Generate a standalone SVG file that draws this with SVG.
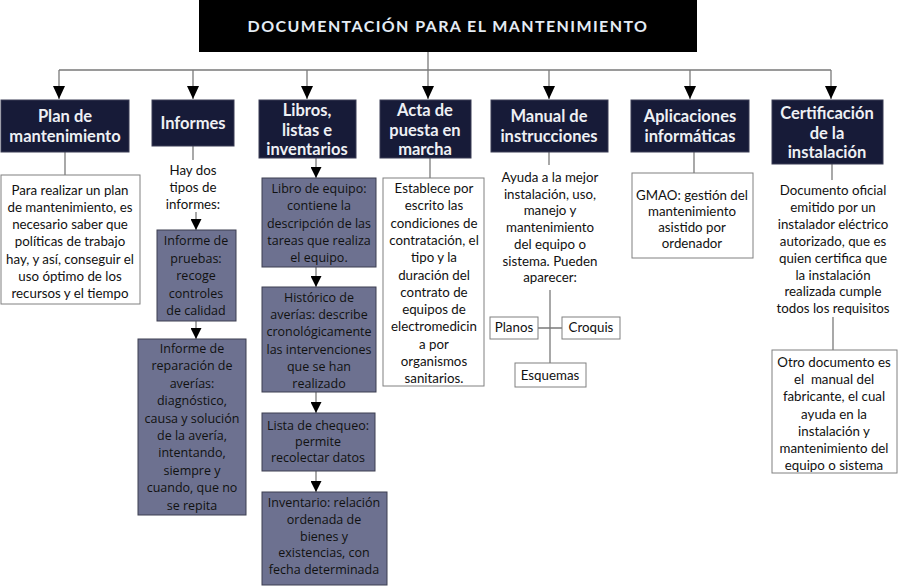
<svg xmlns="http://www.w3.org/2000/svg" width="900" height="586" viewBox="0 0 900 586">
<defs>
<marker id="arr" markerUnits="userSpaceOnUse" markerWidth="13" markerHeight="12" refX="13" refY="6" orient="auto">
<path d="M0,0 L13,6 L0,12 z" fill="#000"/>
</marker>
<marker id="arrs" markerUnits="userSpaceOnUse" markerWidth="11" markerHeight="11" refX="11" refY="5.5" orient="auto">
<path d="M0,0 L11,5.5 L0,11 z" fill="#000"/>
</marker>
<style>
.hdr{fill:#171b38;stroke:#3a3d55;stroke-width:1}
.ht{font-family:Lato,"Liberation Sans",sans-serif;font-weight:bold;font-size:16.5px;fill:#eef0f4;text-anchor:middle}
.wb{fill:#fff;stroke:#808080;stroke-width:1}
.gb{fill:#6d7190;stroke:#3c3e50;stroke-width:1}
.t{font-family:Lato,"Liberation Sans",sans-serif;font-size:13.3px;fill:#111;text-anchor:middle}
.g{font-family:"Open Sans","Liberation Sans",sans-serif;font-size:12.5px;fill:#111;text-anchor:middle}
.ln{stroke:#7a7a7a;stroke-width:1.3;fill:none}
.la{stroke:#7a7a7a;stroke-width:1.3;fill:none;marker-end:url(#arr)}
.ls{stroke:#7a7a7a;stroke-width:1.3;fill:none;marker-end:url(#arrs)}
</style>
</defs>
<rect width="900" height="586" fill="#fff"/>

<g id="connectors">
<path class="ln" d="M428,52 V70 M59,70 H831"/>
<path class="la" d="M59,70 V99"/>
<path class="la" d="M193,70 V99"/>
<path class="la" d="M307,70 V99"/>
<path class="la" d="M428,70 V99"/>
<path class="la" d="M549,70 V99"/>
<path class="la" d="M690,70 V99"/>
<path class="la" d="M831,70 V99"/>
<path class="ln" d="M65,152 V175"/>
<path class="ln" d="M193,146 V160"/>
<path class="ls" d="M196,212 V230"/>
<path class="ls" d="M196,321 V339"/>
<path class="ls" d="M316,158 V178"/>
<path class="ls" d="M316,267 V287"/>
<path class="ls" d="M316,392 V413"/>
<path class="ls" d="M316,471 V492"/>
<path class="ln" d="M430,158 V178"/>
<path class="ln" d="M549,152 V165"/>
<path class="ln" d="M550,290 V363 M538,328 H562"/>
<path class="ln" d="M694,152 V173"/>
<path class="ln" d="M832,164 V180"/>
<path class="ln" d="M833,317 V350"/>
</g>

<g id="title">
<rect x="199" y="0" width="498" height="52" fill="#000"/>
<text x="448" y="32" font-family="Lato,'Liberation Sans',sans-serif" font-size="16px" font-weight="bold" letter-spacing="1.4" fill="#e4ecf4" text-anchor="middle">DOCUMENTACIÓN PARA EL MANTENIMIENTO</text>
</g>

<g id="plan">
<rect class="hdr" x="1" y="100" width="128" height="52"/>
<text class="ht" x="65" y="122"><tspan x="65">Plan de</tspan><tspan x="65" dy="20">mantenimiento</tspan></text>
</g>
<g id="plan-text">
<rect class="wb" x="1" y="175" width="139" height="129"/>
<text class="t" x="70" y="195"><tspan x="70">Para realizar un plan</tspan><tspan x="70" dy="17">de mantenimiento, es</tspan><tspan x="70" dy="17">necesario saber que</tspan><tspan x="70" dy="17">políticas de trabajo</tspan><tspan x="70" dy="17.5">hay, y así, conseguir el</tspan><tspan x="70" dy="17">uso óptimo de los</tspan><tspan x="70" dy="17">recursos y el tiempo</tspan></text>
</g>

<g id="informes">
<rect class="hdr" x="152" y="100" width="82" height="46"/>
<text class="ht" x="193" y="129">Informes</text>
</g>
<g id="informes-text">
<text class="t" x="193" y="175"><tspan x="193">Hay dos</tspan><tspan x="193" dy="17">tipos de</tspan><tspan x="193" dy="17">informes:</tspan></text>
</g>
<g id="informe-pruebas">
<rect class="gb" x="157" y="230" width="79" height="91"/>
<text class="g" x="196" y="245"><tspan x="196">Informe de</tspan><tspan x="196" dy="17.5">pruebas:</tspan><tspan x="196" dy="17.5">recoge</tspan><tspan x="196" dy="17.5">controles</tspan><tspan x="196" dy="17.5">de calidad</tspan></text>
</g>
<g id="informe-reparacion">
<rect class="gb" x="138" y="339" width="108" height="176"/>
<text class="g" x="192" y="353"><tspan x="192">Informe de</tspan><tspan x="192" dy="17.4">reparación de</tspan><tspan x="192" dy="17.4">averías:</tspan><tspan x="192" dy="17.4">diagnóstico,</tspan><tspan x="192" dy="17.4">causa y solución</tspan><tspan x="192" dy="17.4">de la avería,</tspan><tspan x="192" dy="17.4">intentando,</tspan><tspan x="192" dy="17.4">siempre y</tspan><tspan x="192" dy="17.4">cuando, que no</tspan><tspan x="192" dy="17.4">se repita</tspan></text>
</g>

<g id="libros">
<rect class="hdr" x="259" y="100" width="97" height="58"/>
<text class="ht" x="307" y="116"><tspan x="307">Libros,</tspan><tspan x="307" dy="19.5">listas e</tspan><tspan x="307" dy="19.5">inventarios</tspan></text>
</g>
<g id="libro-equipo">
<rect class="gb" x="262" y="178" width="114" height="89"/>
<text class="g" x="319" y="193"><tspan x="319">Libro de equipo:</tspan><tspan x="319" dy="17.3">contiene la</tspan><tspan x="319" dy="17.3">descripción de las</tspan><tspan x="319" dy="17.3">tareas que realiza</tspan><tspan x="319" dy="17.3">el equipo.</tspan></text>
</g>
<g id="historico">
<rect class="gb" x="262" y="287" width="114" height="105"/>
<text class="g" x="319" y="302"><tspan x="319">Histórico de</tspan><tspan x="319" dy="17.2">averías: describe</tspan><tspan x="319" dy="17.2">cronológicamente</tspan><tspan x="319" dy="17.2">las intervenciones</tspan><tspan x="319" dy="17.2">que se han</tspan><tspan x="319" dy="17.2">realizado</tspan></text>
</g>
<g id="lista-chequeo">
<rect class="gb" x="262" y="413" width="113" height="58"/>
<text class="g" x="318" y="430"><tspan x="318">Lista de chequeo:</tspan><tspan x="318" dy="16">permite</tspan><tspan x="318" dy="16">recolectar datos</tspan></text>
</g>
<g id="inventario">
<rect class="gb" x="262" y="492" width="125" height="93"/>
<text class="g" x="324" y="507"><tspan x="324">Inventario: relación</tspan><tspan x="324" dy="16.8">ordenada de</tspan><tspan x="324" dy="16.8">bienes y</tspan><tspan x="324" dy="16.8">existencias, con</tspan><tspan x="324" dy="16.8">fecha determinada</tspan></text>
</g>

<g id="acta">
<rect class="hdr" x="380" y="100" width="91" height="58"/>
<text class="ht" x="425" y="116"><tspan x="425">Acta de</tspan><tspan x="425" dy="19.5">puesta en</tspan><tspan x="425" dy="19.5">marcha</tspan></text>
</g>
<g id="acta-text">
<rect class="wb" x="383" y="178" width="101" height="208"/>
<text class="t" x="434" y="193"><tspan x="434">Establece por</tspan><tspan x="434" dy="17.3">escrito las</tspan><tspan x="434" dy="17.3">condiciones de</tspan><tspan x="434" dy="17.3">contratación, el</tspan><tspan x="434" dy="17.3">tipo y la</tspan><tspan x="434" dy="17.3">duración del</tspan><tspan x="434" dy="17.3">contrato de</tspan><tspan x="434" dy="17.3">equipos de</tspan><tspan x="434" dy="17.3">electromedicin</tspan><tspan x="434" dy="17.3">a por</tspan><tspan x="434" dy="17.3">organismos</tspan><tspan x="434" dy="17.3">sanitarios.</tspan></text>
</g>

<g id="manual">
<rect class="hdr" x="491" y="100" width="117" height="52"/>
<text class="ht" x="549" y="122"><tspan x="549">Manual de</tspan><tspan x="549" dy="20">instrucciones</tspan></text>
</g>
<g id="manual-text">
<text class="t" x="550" y="182"><tspan x="550">Ayuda a la mejor</tspan><tspan x="550" dy="16.7">instalación, uso,</tspan><tspan x="550" dy="16.7">manejo y</tspan><tspan x="550" dy="16.7">mantenimiento</tspan><tspan x="550" dy="16.7">del equipo o</tspan><tspan x="550" dy="16.7">sistema. Pueden</tspan><tspan x="550" dy="16.7">aparecer:</tspan></text>
</g>
<g id="planos">
<rect class="wb" x="490" y="317" width="48" height="22"/>
<text class="t" x="514" y="332">Planos</text>
</g>
<g id="croquis">
<rect class="wb" x="562" y="317" width="58" height="22"/>
<text class="t" x="591" y="332">Croquis</text>
</g>
<g id="esquemas">
<rect class="wb" x="515" y="363" width="71" height="24"/>
<text class="t" x="550" y="380">Esquemas</text>
</g>

<g id="aplicaciones">
<rect class="hdr" x="631" y="100" width="118" height="52"/>
<text class="ht" x="690" y="122"><tspan x="690">Aplicaciones</tspan><tspan x="690" dy="20">informáticas</tspan></text>
</g>
<g id="gmao">
<rect class="wb" x="632" y="173" width="121" height="85"/>
<text class="t" x="692" y="200"><tspan x="692">GMAO: gestión del</tspan><tspan x="692" dy="16">mantenimiento</tspan><tspan x="692" dy="16">asistido por</tspan><tspan x="692" dy="16">ordenador</tspan></text>
</g>

<g id="certificacion">
<rect class="hdr" x="772" y="100" width="111" height="64"/>
<text class="ht" x="827" y="119"><tspan x="827">Certificación</tspan><tspan x="827" dy="19.5">de la</tspan><tspan x="827" dy="19.5">instalación</tspan></text>
</g>
<g id="cert-text">
<text class="t" x="833" y="195"><tspan x="833">Documento oficial</tspan><tspan x="833" dy="16.9">emitido por un</tspan><tspan x="833" dy="16.9">instalador eléctrico</tspan><tspan x="833" dy="16.9">autorizado, que es</tspan><tspan x="833" dy="16.9">quien certifica que</tspan><tspan x="833" dy="16.9">la instalación</tspan><tspan x="833" dy="16.9">realizada cumple</tspan><tspan x="833" dy="16.9">todos los requisitos</tspan></text>
</g>
<g id="otro-documento">
<rect class="wb" x="772" y="350" width="125" height="123"/>
<text class="t" x="834" y="367" style="white-space:pre"><tspan x="834">Otro documento es</tspan><tspan x="834" dy="17.2">el  manual del</tspan><tspan x="834" dy="17.2">fabricante, el cual</tspan><tspan x="834" dy="17.2">ayuda en la</tspan><tspan x="834" dy="17.2">instalación y</tspan><tspan x="834" dy="17.2">mantenimiento del</tspan><tspan x="834" dy="17.2">equipo o sistema</tspan></text>
</g>
</svg>
